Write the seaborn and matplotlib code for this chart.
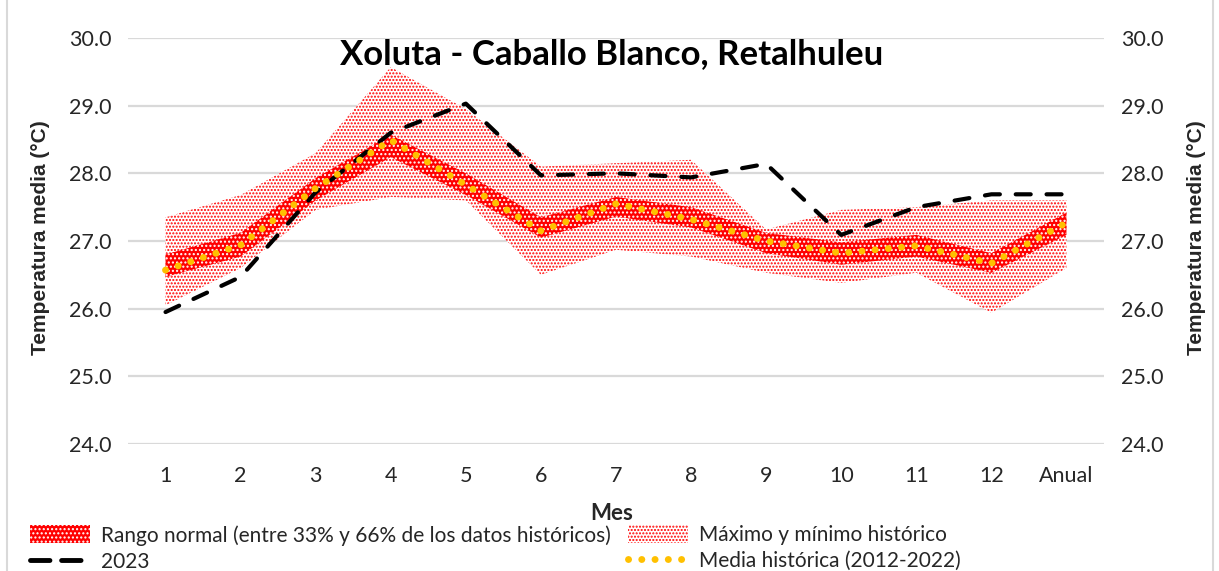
import numpy as np
import pandas as pd
import matplotlib
matplotlib.use("Agg")
import matplotlib.pyplot as plt
import seaborn as sns
from matplotlib.patches import Patch
from matplotlib.lines import Line2D

# ---------------- data ----------------
categories = ["1", "2", "3", "4", "5", "6", "7", "8", "9", "10", "11", "12", "Anual"]
hist_max = [27.35, 27.68, 28.30, 29.57, 28.95, 28.10, 28.15, 28.20, 27.17, 27.46, 27.50, 27.60, 27.60]
hist_min = [26.05, 26.60, 27.46, 27.65, 27.60, 26.50, 26.87, 26.77, 26.53, 26.38, 26.53, 25.94, 26.60]
normal_low = [26.47, 26.77, 27.60, 28.24, 27.68, 27.05, 27.36, 27.20, 26.82, 26.65, 26.77, 26.53, 27.09]
normal_high = [26.80, 27.12, 27.93, 28.57, 28.00, 27.35, 27.65, 27.50, 27.12, 26.98, 27.09, 26.82, 27.42]
mean_hist = [26.57, 26.94, 27.78, 28.49, 27.83, 27.15, 27.55, 27.32, 27.00, 26.82, 26.93, 26.67, 27.27]
year_2023 = [25.95, 26.47, 27.72, 28.60, 29.03, 27.97, 28.00, 27.94, 28.14, 27.09, 27.50, 27.69, 27.69]

title = "Xoluta - Caballo Blanco, Retalhuleu"
ylabel = "Temperatura media (°C)"
xlabel = "Mes"
lbl_normal = "Rango normal (entre 33% y 66% de los datos históricos)"
lbl_maxmin = "Máximo y mínimo histórico"
lbl_2023 = "2023"
lbl_mean = "Media histórica (2012-2022)"

df = pd.DataFrame({
    "x": np.arange(len(categories)),
    "mean": mean_hist,
    "y2023": year_2023,
})

# ---------------- style ----------------
sns.set_theme(style="white")
plt.rcParams["font.family"] = ["Lato", "DejaVu Sans"]
plt.rcParams["hatch.linewidth"] = 1.0

W, H = 1219, 571
fig = plt.figure(figsize=(W / 100, H / 100), dpi=100)
ax = fig.add_axes([128 / W, 1 - 444 / H, (1104 - 128) / W, (444 - 38) / H])

x = df["x"].values

MAXMIN_HATCH = "....."
NORMAL_HATCH = "...."

# max/min band
ax.fill_between(x, hist_min, hist_max, facecolor="white", edgecolor="#ff0000",
                hatch=MAXMIN_HATCH, linewidth=0, zorder=2)
# normal range band
ax.fill_between(x, normal_low, normal_high, facecolor="#ff0000", edgecolor="white",
                hatch=NORMAL_HATCH, linewidth=0, zorder=3)
# 2023
sns.lineplot(data=df, x="x", y="y2023", ax=ax, color="black", linewidth=3.0,
             zorder=4, legend=False)
ax.lines[-1].set_dashes((3.6, 3.8))
ax.lines[-1].set_dash_capstyle("round")
# historical mean
sns.lineplot(data=df, x="x", y="mean", ax=ax, color="#FFC000", linewidth=5.0,
             zorder=5, legend=False)
ax.lines[-1].set_dashes((0.01, 1.9))
ax.lines[-1].set_dash_capstyle("round")

# axes
ax.set_xlim(-0.5, len(categories) - 0.5)
ax.set_ylim(24, 30)
yt = np.arange(24, 30.01, 1.0)
ax.set_yticks(yt)
ax.set_yticklabels([f"{v:.1f}" for v in yt])
ax.set_xticks(x)
ax.set_xticklabels(categories)
ax.tick_params(axis="both", length=0, labelsize=15.5, colors="#262626")
ax.tick_params(axis="y", pad=12)
ax.tick_params(axis="x", pad=16)
for s in ax.spines.values():
    s.set_visible(False)
ax.grid(axis="y", color="#d9d9d9", linewidth=1.6)
ax.set_axisbelow(True)
ax.set_xlabel("")
ax.set_ylabel("")

ax2 = ax.twinx()
ax2.set_ylim(24, 30)
ax2.set_yticks(yt)
ax2.set_yticklabels([f"{v:.1f}" for v in yt])
ax2.tick_params(axis="y", length=0, labelsize=15.5, colors="#262626", pad=12)
for s in ax2.spines.values():
    s.set_visible(False)
ax2.grid(False)

# texts
fig.text(612 / W, 1 - 54 / H, title, ha="center", va="center", fontsize=25,
         fontweight="bold", color="black")
fig.text(41 / W, 1 - 238 / H, ylabel, rotation=90, ha="center", va="center",
         fontsize=15, fontweight="bold", family=["Liberation Sans", "DejaVu Sans"])
fig.text(1196 / W, 1 - 238 / H, ylabel, rotation=90, ha="center", va="center",
         fontsize=15, fontweight="bold", family=["Liberation Sans", "DejaVu Sans"])
fig.text(612 / W, 1 - 513 / H, xlabel, ha="center", va="center", fontsize=16,
         fontweight="bold")

# legend
h_normal = Patch(facecolor="#ff0000", edgecolor="white", hatch=NORMAL_HATCH, linewidth=0)
h_maxmin = Patch(facecolor="white", edgecolor="#ff0000", hatch=MAXMIN_HATCH, linewidth=0)
h_2023 = Line2D([], [], color="black", linewidth=3.5, dashes=(4.0, 2.4),
                dash_capstyle="round")
h_mean = Line2D([], [], color="#FFC000", linewidth=5.0, dashes=(0.01, 1.9),
                dash_capstyle="round")

common = dict(frameon=False, fontsize=15, handlelength=2.9, handleheight=0.95,
              handletextpad=0.5, labelspacing=0.28, borderpad=0, borderaxespad=0)
leg1 = fig.legend([h_normal, h_2023], [lbl_normal, lbl_2023], loc="upper left",
                  bbox_to_anchor=(30 / W, 1 - 525 / H), **common)
leg2 = fig.legend([h_maxmin, h_mean], [lbl_maxmin, lbl_mean], loc="upper left",
                  bbox_to_anchor=(628 / W, 1 - 525 / H), **common)

# chart border
fig.add_artist(Line2D([7 / W, 7 / W], [0, 1], color="#d9d9d9", linewidth=1.5,
                      transform=fig.transFigure))
fig.add_artist(Line2D([1213 / W, 1213 / W], [0, 1], color="#d9d9d9", linewidth=1.5,
                      transform=fig.transFigure))

fig.savefig("out.png", dpi=100)
